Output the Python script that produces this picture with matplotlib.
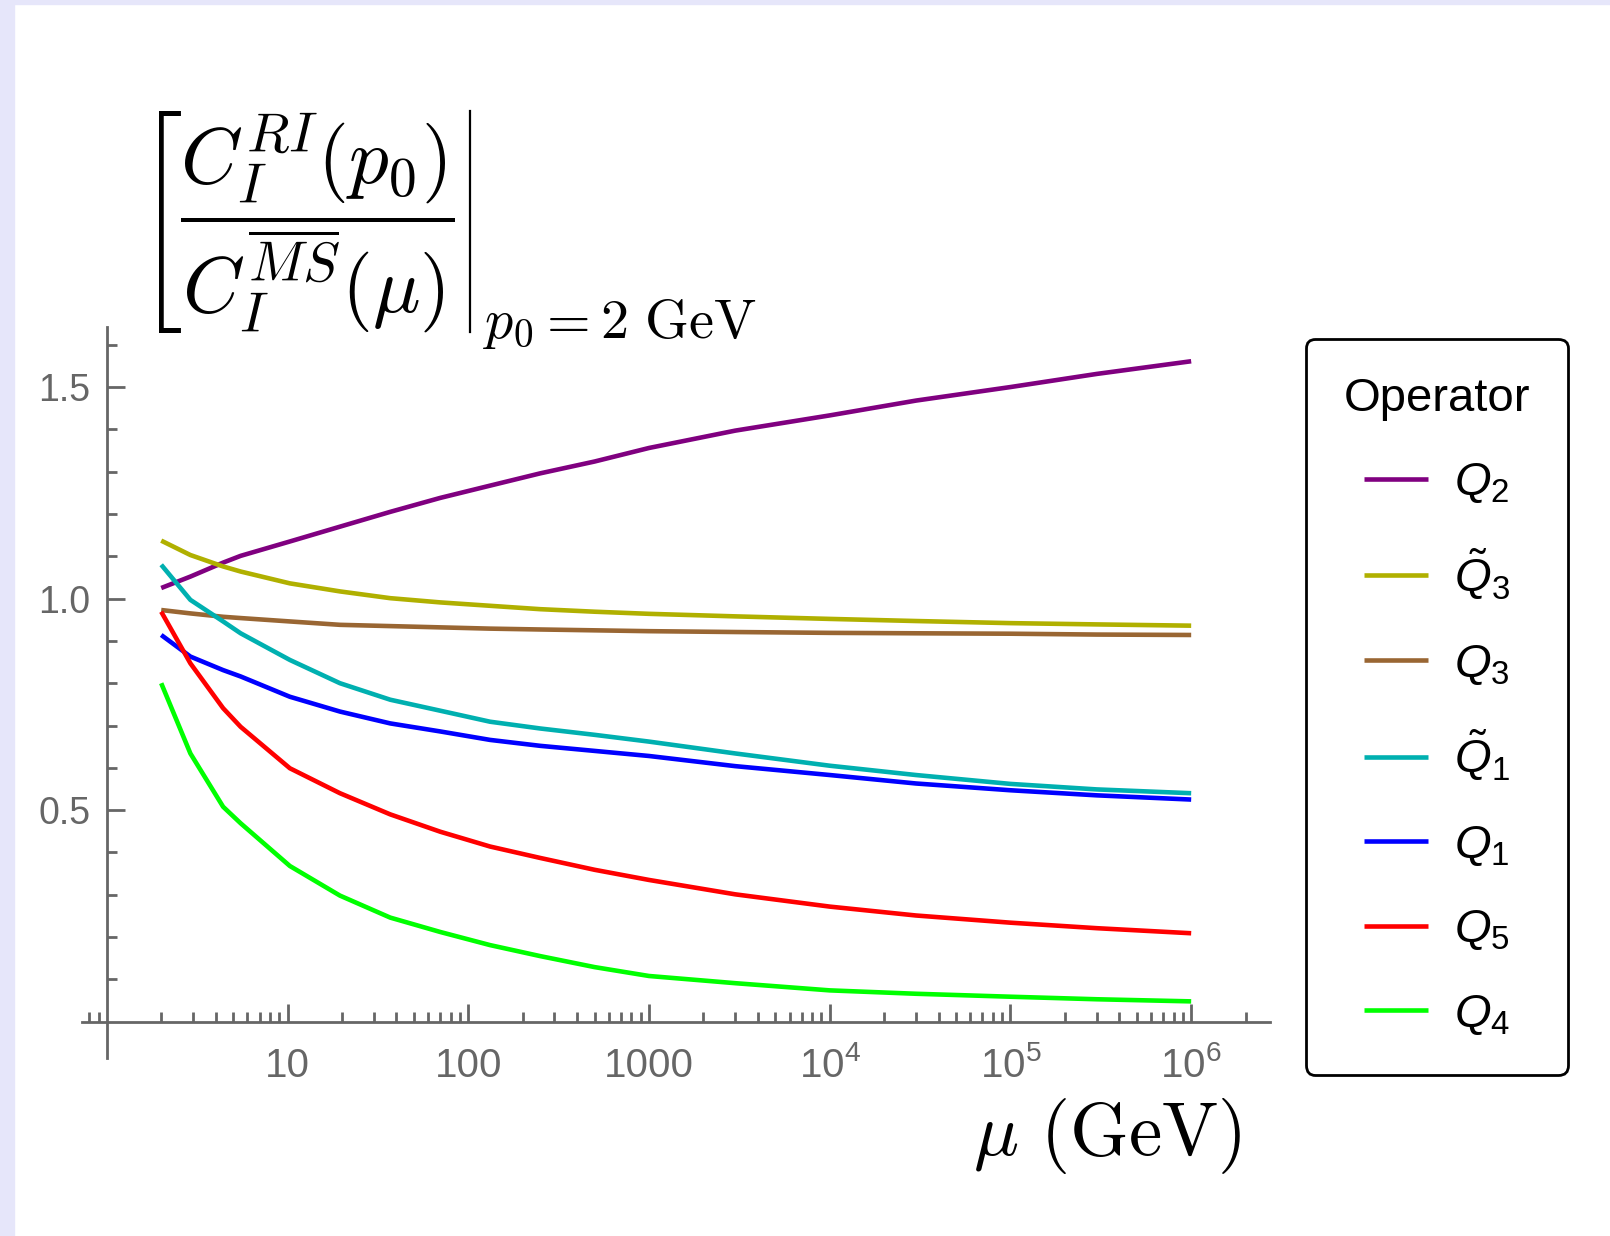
import matplotlib
matplotlib.use("Agg")
import matplotlib.pyplot as plt
from matplotlib.patches import Rectangle
from matplotlib.lines import Line2D
from matplotlib.ticker import FixedLocator, NullFormatter

plt.rcParams['font.family'] = ['Liberation Sans', 'DejaVu Sans']
plt.rcParams['mathtext.fontset'] = 'custom'
plt.rcParams['mathtext.rm'] = 'Liberation Sans'
plt.rcParams['mathtext.it'] = 'Liberation Sans:italic'

mu = [2, 2.9, 4.4, 5.5, 10.3, 19.5, 37, 70, 132, 250, 500, 1000, 3000, 1e4, 3e4, 1e5, 3e5, 1e6]

Q2 = [1.025, 1.052, 1.085, 1.101, 1.135, 1.170, 1.205, 1.238, 1.267, 1.296, 1.324, 1.356, 1.397, 1.433, 1.468, 1.500, 1.531, 1.561]
Q3t = [1.137, 1.103, 1.076, 1.064, 1.036, 1.017, 1.001, 0.991, 0.983, 0.975, 0.969, 0.964, 0.958, 0.952, 0.947, 0.942, 0.939, 0.936]
Q3 = [0.973, 0.965, 0.957, 0.954, 0.946, 0.938, 0.935, 0.932, 0.929, 0.927, 0.925, 0.923, 0.921, 0.919, 0.918, 0.917, 0.915, 0.914]
Q1t = [1.080, 0.997, 0.946, 0.918, 0.855, 0.800, 0.761, 0.735, 0.709, 0.693, 0.678, 0.662, 0.634, 0.605, 0.583, 0.562, 0.549, 0.540]
Q1 = [0.914, 0.863, 0.831, 0.816, 0.768, 0.733, 0.705, 0.686, 0.666, 0.652, 0.640, 0.628, 0.604, 0.583, 0.563, 0.547, 0.535, 0.525]
Q5 = [0.969, 0.847, 0.741, 0.697, 0.599, 0.540, 0.490, 0.449, 0.414, 0.387, 0.359, 0.335, 0.301, 0.272, 0.251, 0.234, 0.221, 0.209]
Q4 = [0.800, 0.634, 0.508, 0.469, 0.368, 0.298, 0.246, 0.212, 0.181, 0.155, 0.129, 0.108, 0.091, 0.074, 0.066, 0.059, 0.053, 0.048]

series = [Q2, Q3t, Q3, Q1t, Q1, Q5, Q4]
labels = [r'$Q_2$', r'$\tilde{Q}_3$', r'$Q_3$', r'$\tilde{Q}_1$', r'$Q_1$', r'$Q_5$', r'$Q_4$']
colors = ['#800080', '#b0b000', '#996633', '#00b0b0', '#0000ff', '#ff0000', '#00ff00']

xticks = [10, 100, 1000, 1e4, 1e5, 1e6]
xticklabels = ['10', '100', '1000', r'$10^4$', r'$10^5$', r'$10^6$']
yticks = [0.5, 1.0, 1.5]
yticklabels = ['0.5', '1.0', '1.5']

fig = plt.figure(figsize=(16.1, 12.36), dpi=100)
# lavender frame strips
fig.patches.append(Rectangle((0, 0), 14 / 1610, 1, transform=fig.transFigure, color='#e6e6fa', zorder=0))
fig.patches.append(Rectangle((0, 1 - 4 / 1236), 1, 4 / 1236, transform=fig.transFigure, color='#e6e6fa', zorder=0))

ax = fig.add_axes([0.051, 0.1443, 0.738, 0.5915])
ax.patch.set_visible(False)
lines = []
for ys, lab, c in zip(series, labels, colors):
    ln, = ax.plot(mu, ys, color=c, lw=3.3, label=lab, solid_capstyle='butt')
    lines.append(ln)

ax.set_xscale('log')
ax.set_xlim(0.73, 2.74e6)
ax.set_ylim(-0.085, 1.643)

for s in ['top', 'right']:
    ax.spines[s].set_visible(False)
ax.spines['left'].set_position(('data', 1))
ax.spines['bottom'].set_position(('data', 0))
for s in ['left', 'bottom']:
    ax.spines[s].set_color('#666666')
    ax.spines[s].set_linewidth(2)

ax.xaxis.set_major_locator(FixedLocator(xticks))
ax.set_xticklabels(xticklabels)
minor_x = [k * 10.0 ** n for n in range(-1, 7) for k in range(2, 10)]
ax.xaxis.set_minor_locator(FixedLocator(minor_x))
ax.xaxis.set_minor_formatter(NullFormatter())
ax.set_yticks(yticks)
ax.set_yticklabels(yticklabels)
ax.yaxis.set_minor_locator(FixedLocator([0.1, 0.2, 0.3, 0.4, 0.6, 0.7, 0.8, 0.9, 1.1, 1.2, 1.3, 1.4, 1.6]))

ax.tick_params(axis='both', which='both', direction='in', color='#666666', width=2, labelcolor='#666666')
ax.tick_params(axis='both', which='major', length=13)
ax.tick_params(axis='both', which='minor', length=7)
ax.tick_params(axis='x', which='major', pad=40, labelsize=29)
ax.tick_params(axis='y', which='major', pad=12, labelsize=27)
for lab in ax.get_xticklabels():
    lab.set_verticalalignment('baseline')

# y-axis label, drawn as a block above the axes
fig.text(0.086, 0.912,
         r'$\left[\dfrac{C_I^{RI}(p_0)}{C_I^{\overline{MS}}(\mu)}\right.$',
         fontsize=57, ha='left', va='top', math_fontfamily='cm')
fig.add_artist(Line2D([0.292, 0.292], [0.731, 0.910], transform=fig.transFigure, color='black', lw=1.6))
fig.text(0.300, 0.7265, r'$p_0{=}2\ \mathrm{GeV}$', fontsize=40.5, ha='left', va='baseline', math_fontfamily='cm')
fig.text(0.771, 0.0655, r'$\mu\ (\mathrm{GeV})$', fontsize=54, ha='right', va='baseline', math_fontfamily='cm')

leg = fig.legend(handles=lines, loc='upper left', bbox_to_anchor=(0.811, 0.7257), borderaxespad=0,
                 title='Operator', fontsize=34, title_fontsize=34, handlelength=1.35, handletextpad=0.55,
                 labelspacing=0.86, borderpad=0.8, fancybox=True, framealpha=1, edgecolor='black')
leg.get_frame().set_linewidth(2)

fig.savefig('out.png', dpi=100)
